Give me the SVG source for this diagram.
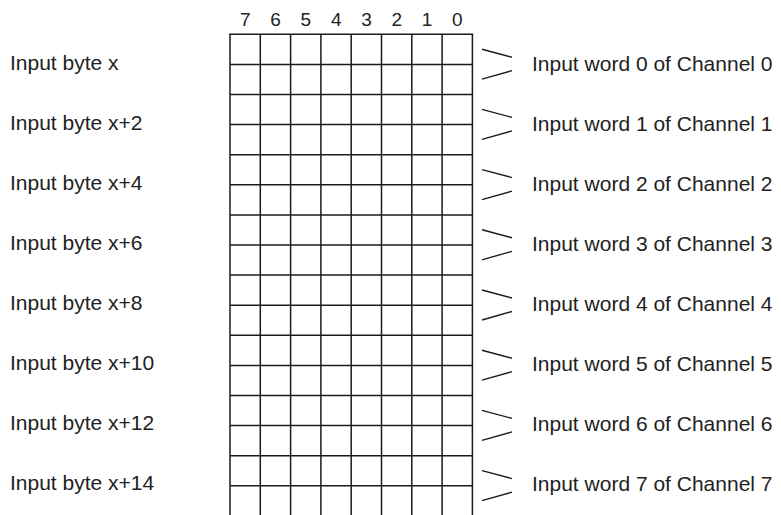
<svg xmlns="http://www.w3.org/2000/svg" width="781" height="515" viewBox="0 0 781 515">
<style>
text{font-family:"Liberation Sans",Arial,sans-serif;fill:#222}
.lbl{font-size:21px}
.bit{font-size:19px;text-anchor:middle}
.g line{stroke:#1a1a1a;stroke-width:1.5}
.c line{stroke:#1a1a1a;stroke-width:1.4}
</style>
<rect width="781" height="515" fill="#fff"/>
<g id="bits">
<text class="bit" x="245.3" y="26">7</text>
<text class="bit" x="275.6" y="26">6</text>
<text class="bit" x="305.9" y="26">5</text>
<text class="bit" x="336.2" y="26">4</text>
<text class="bit" x="366.5" y="26">3</text>
<text class="bit" x="396.8" y="26">2</text>
<text class="bit" x="427.1" y="26">1</text>
<text class="bit" x="457.4" y="26">0</text>
</g>
<g id="grid" class="g">
<line x1="230" y1="34" x2="230" y2="515"/>
<line x1="260.3" y1="34" x2="260.3" y2="515"/>
<line x1="290.6" y1="34" x2="290.6" y2="515"/>
<line x1="320.9" y1="34" x2="320.9" y2="515"/>
<line x1="351.2" y1="34" x2="351.2" y2="515"/>
<line x1="381.5" y1="34" x2="381.5" y2="515"/>
<line x1="411.8" y1="34" x2="411.8" y2="515"/>
<line x1="442.1" y1="34" x2="442.1" y2="515"/>
<line x1="472.4" y1="34" x2="472.4" y2="515"/>
<line x1="229.25" y1="34.3" x2="473.15" y2="34.3"/>
<line x1="230" y1="64.4" x2="472.4" y2="64.4"/>
<line x1="230" y1="94.5" x2="472.4" y2="94.5"/>
<line x1="230" y1="124.6" x2="472.4" y2="124.6"/>
<line x1="230" y1="154.7" x2="472.4" y2="154.7"/>
<line x1="230" y1="184.8" x2="472.4" y2="184.8"/>
<line x1="230" y1="214.9" x2="472.4" y2="214.9"/>
<line x1="230" y1="245" x2="472.4" y2="245"/>
<line x1="230" y1="275.1" x2="472.4" y2="275.1"/>
<line x1="230" y1="305.2" x2="472.4" y2="305.2"/>
<line x1="230" y1="335.3" x2="472.4" y2="335.3"/>
<line x1="230" y1="365.4" x2="472.4" y2="365.4"/>
<line x1="230" y1="395.5" x2="472.4" y2="395.5"/>
<line x1="230" y1="425.6" x2="472.4" y2="425.6"/>
<line x1="230" y1="455.7" x2="472.4" y2="455.7"/>
<line x1="230" y1="485.8" x2="472.4" y2="485.8"/>
</g>
<g id="left-labels">
<text class="lbl" x="10" y="70">Input byte x</text>
<text class="lbl" x="10" y="130">Input byte x+2</text>
<text class="lbl" x="10" y="190">Input byte x+4</text>
<text class="lbl" x="10" y="250">Input byte x+6</text>
<text class="lbl" x="10" y="310">Input byte x+8</text>
<text class="lbl" x="10" y="370">Input byte x+10</text>
<text class="lbl" x="10" y="430">Input byte x+12</text>
<text class="lbl" x="10" y="490">Input byte x+14</text>
</g>
<g id="connectors" class="c">
<line x1="482" y1="49.2" x2="512" y2="57.2"/><line x1="482" y1="79.2" x2="512" y2="70.7"/>
<line x1="482" y1="109.4" x2="512" y2="117.4"/><line x1="482" y1="139.4" x2="512" y2="130.9"/>
<line x1="482" y1="169.6" x2="512" y2="177.6"/><line x1="482" y1="199.6" x2="512" y2="191.1"/>
<line x1="482" y1="229.8" x2="512" y2="237.8"/><line x1="482" y1="259.8" x2="512" y2="251.3"/>
<line x1="482" y1="290" x2="512" y2="298"/><line x1="482" y1="320" x2="512" y2="311.5"/>
<line x1="482" y1="350.2" x2="512" y2="358.2"/><line x1="482" y1="380.2" x2="512" y2="371.7"/>
<line x1="482" y1="410.4" x2="512" y2="418.4"/><line x1="482" y1="440.4" x2="512" y2="431.9"/>
<line x1="482" y1="470.6" x2="512" y2="478.6"/><line x1="482" y1="500.6" x2="512" y2="492.1"/>
</g>
<g id="right-labels">
<text class="lbl" x="532" y="70.5">Input word 0 of Channel 0</text>
<text class="lbl" x="532" y="130.5">Input word 1 of Channel 1</text>
<text class="lbl" x="532" y="190.5">Input word 2 of Channel 2</text>
<text class="lbl" x="532" y="250.5">Input word 3 of Channel 3</text>
<text class="lbl" x="532" y="310.5">Input word 4 of Channel 4</text>
<text class="lbl" x="532" y="370.5">Input word 5 of Channel 5</text>
<text class="lbl" x="532" y="430.5">Input word 6 of Channel 6</text>
<text class="lbl" x="532" y="490.5">Input word 7 of Channel 7</text>
</g>
</svg>
